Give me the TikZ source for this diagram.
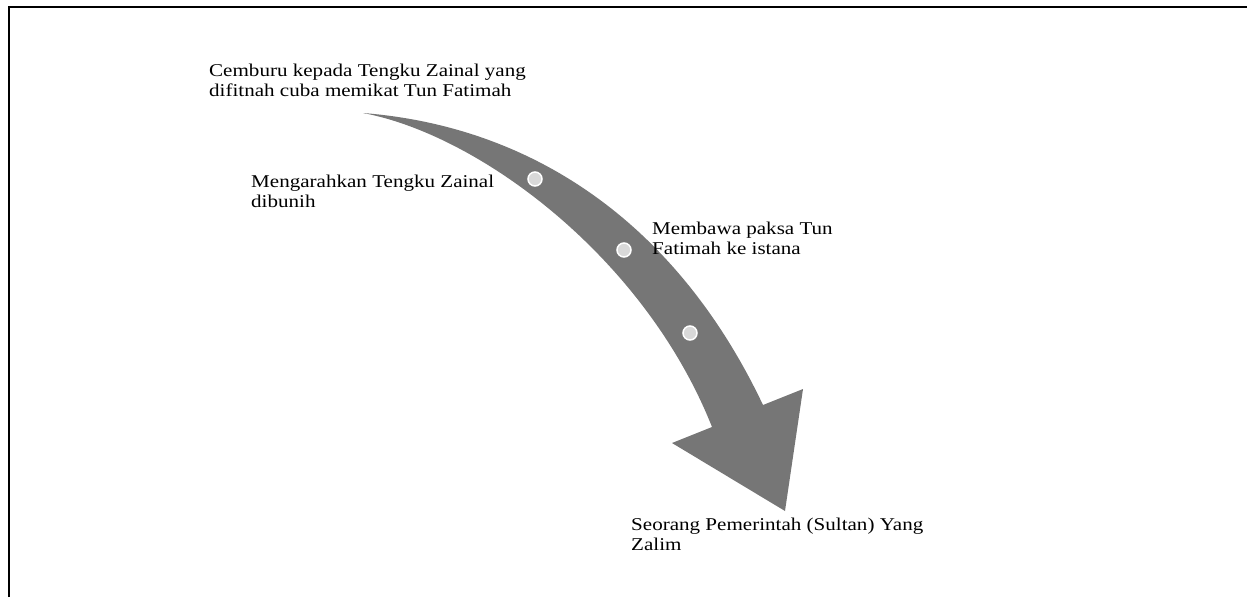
\documentclass[tikz,border=0pt]{standalone}
\usepackage{fontspec}
\setmainfont{Liberation Serif}[FakeStretch=1.17]
\definecolor{arrowgray}{RGB}{118,118,118}
\definecolor{dotgray}{RGB}{217,217,217}
\begin{document}
\begin{tikzpicture}[x=1pt,y=-1pt,
  lbl/.style={anchor=base west, inner sep=0pt, align=left, font=\fontsize{18}{19.5}\selectfont},
  dot/.style={circle, fill=dotgray, draw=white, line width=1.5pt, minimum size=14pt, inner sep=0pt},
  frame/.style={line width=2pt, black}]
\useasboundingbox (0,0) rectangle (1247,597);
% frame
\draw[frame] (9,597) -- (9,6.8) -- (1247,6.8);
% curved arrow
\coordinate (tail) at (363,113);
\coordinate (sh1) at (763,405);
\coordinate (hc1) at (803,389);
\coordinate (tip) at (785,511);
\coordinate (hc2) at (672,443);
\coordinate (sh2) at (712,427);
\fill[arrowgray] (tail) .. controls (540,127) and (680,230) .. (sh1) -- (hc1) -- (tip) -- (hc2) -- (sh2)
  .. controls (645,258) and (480,135) .. (tail) -- cycle;
% dots
\node[dot] (d1) at (535,179) {};
\node[dot] (d2) at (624,250) {};
\node[dot] (d3) at (690,333) {};
% labels (anchor = baseline of last line)
\node[lbl] (t1) at (209,96) {Cemburu kepada Tengku Zainal yang\\difitnah cuba memikat Tun Fatimah};
\node[lbl] (t2) at (251,207) {Mengarahkan Tengku Zainal\\dibunih};
\node[lbl] (t3) at (652,254) {Membawa paksa Tun\\Fatimah ke istana};
\node[lbl] (t4) at (631,550) {Seorang Pemerintah (Sultan) Yang\\Zalim};
\end{tikzpicture}
\end{document}
